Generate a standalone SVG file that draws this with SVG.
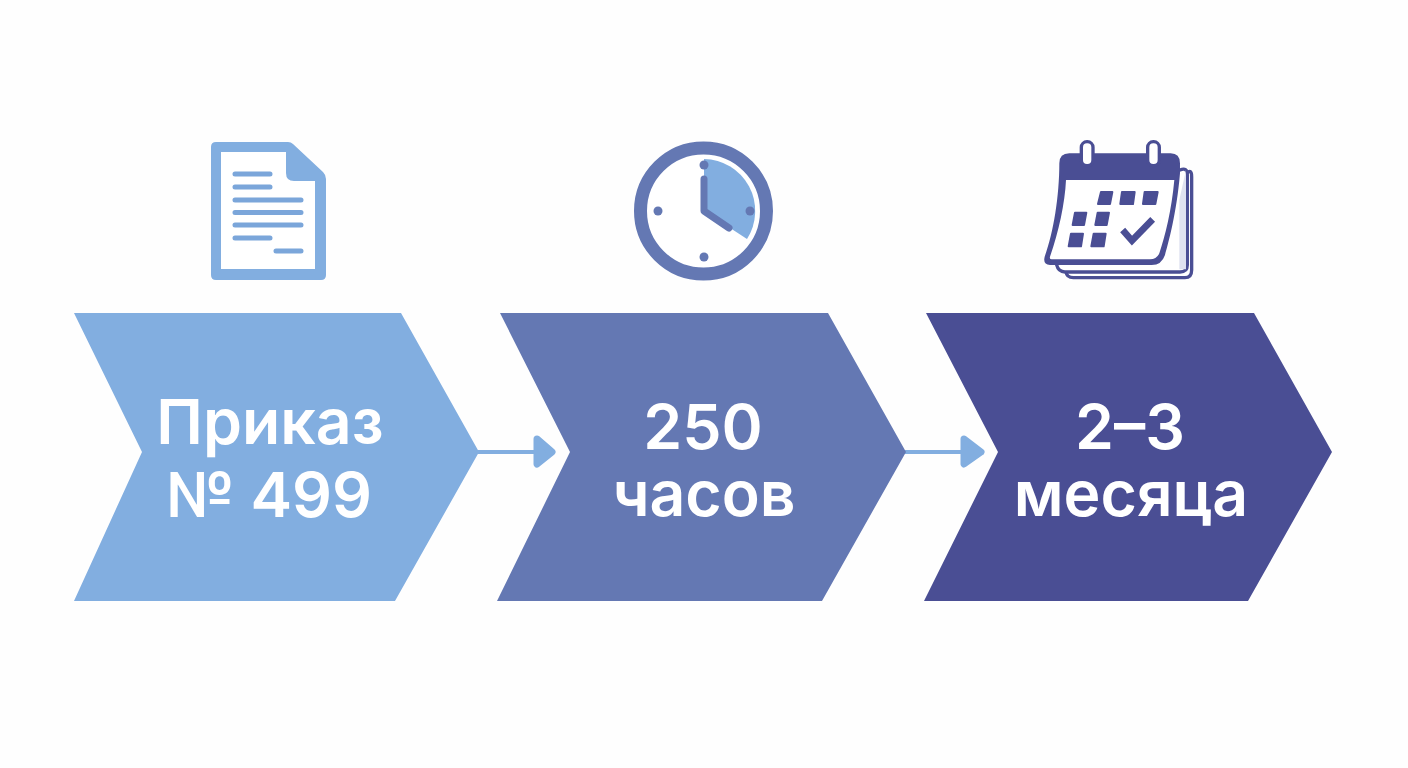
<svg xmlns="http://www.w3.org/2000/svg" width="1408" height="768" viewBox="0 0 1408 768">
<style>
.t{font-family:"Inter","Liberation Sans",sans-serif;font-weight:600;font-size:62.500px;fill:#fff;text-anchor:middle}
.l{stroke:#7ba6da;stroke-width:5;stroke-linecap:round;fill:none}
.h{stroke:#6478b3;fill:none;stroke-linecap:round;stroke-linejoin:round}
.d{fill:#6478b3}
.c{fill:#4a4e94;stroke:#4a4e94;stroke-width:6;stroke-linejoin:round}
.f{fill:#4a4e94}
.o{fill:#fff;stroke:#4a4e94;stroke-width:10;stroke-linejoin:round}
.a{fill:#82aee0;stroke:#82aee0;stroke-width:7;stroke-linejoin:round}
.n{stroke:#82aee0;stroke-width:4;fill:none}
</style>
<rect width="1408" height="768" fill="#fefefe"/>
<g id="connectors">
<path class="n" d="M478 452H536"/><path class="a" d="M537 439L552 452L537 464Z"/>
<path class="n" d="M905 452H963"/><path class="a" d="M964 439L981 452L964 464Z"/>
</g>
<g id="node-order">
<path fill="#82aee0" d="M74 313H401L479 452L395 601H74L142 452Z"/>
<text class="t" x="270" y="444">Приказ</text>
<text class="t" x="269" y="517">№ 499</text>
<path fill="#82aee0" d="M216 142H288Q291 142 293 144L323 172Q326 175 326 179V275Q326 280 321 280H216Q211 280 211 275V147Q211 142 216 142Z"/>
<path fill="#fff" d="M221 152H286V173Q286 181 294 181H315V269H221Z"/>
<path class="l" d="M235 174H270M235 187H270M235 200H301M235 212.500H301M235 225H301M235 238H270M276 251H301"/>
</g>
<g id="node-hours">
<path fill="#6478b3" d="M500 313H828L906 452L822 601H497L570 452Z"/>
<text class="t" x="703" y="449">250</text>
<text class="t" x="704" y="516">часов</text>
<circle cx="703.500" cy="211" r="63" fill="#fff" stroke="#6478b3" stroke-width="13"/>
<path fill="#82aee0" d="M704 159A52 52 0 0 1 747 239L704 211Z"/>
<path class="h" stroke-width="7" d="M704 179V211L729 228"/>
<circle class="d" cx="704" cy="165" r="4.500"/>
<circle class="d" cx="658" cy="211" r="4.500"/>
<circle class="d" cx="750" cy="211" r="4.500"/>
<circle class="d" cx="704" cy="257" r="4.500"/>
</g>
<g id="node-months">
<path fill="#4a4e94" d="M926 313H1254L1332 452L1248 601H924L998 452Z"/>
<text class="t" x="1130" y="449">2–3</text>
<text class="t" x="1131" y="516">месяца</text>
<g transform="translate(1040 130) scale(.3333)">
<path class="o" d="M100 130H440Q455 115 455 140V420Q455 443 435 443H100Q80 443 78 425Z"/>
<path class="o" d="M80 120H420Q442 110 442 135V405Q442 426 420 426H75Q55 426 50 405Z"/>
<path fill="#dfe2f0" d="M418 210L438 120V418H418Z"/>
<path class="f" d="M58 100Q58 70 88 70H392Q420 70 420 100V130C410 250 385 340 375 375Q365 405 335 405H30Q8 405 14 380C40 310 58 200 58 100Z"/>
<path fill="#fff" d="M78 150H403C395 240 375 320 358 370Q350 388 330 388H35Q28 388 30 380C55 310 75 220 78 150Z"/>
<rect x="124" y="35" width="35" height="72" rx="17" fill="#fff" stroke="#4a4e94" stroke-width="10"/>
<rect x="323" y="35" width="35" height="72" rx="17" fill="#fff" stroke="#4a4e94" stroke-width="10"/>
<path class="c" d="M183 186H217L210 222H174Z"/>
<path class="c" d="M246 186H284L279 222H241Z"/>
<path class="c" d="M314 186H353L346 222H309Z"/>
<path class="c" d="M105 248H139L132 285H98Z"/>
<path class="c" d="M173 248H207L200 285H166Z"/>
<path class="c" d="M93 311H129L123 349H86Z"/>
<path class="c" d="M161 311H197L191 349H154Z"/>
<path d="M248 300L276 332L338 268" fill="none" stroke="#4a4e94" stroke-width="20"/>
</g>
</g>
</svg>
